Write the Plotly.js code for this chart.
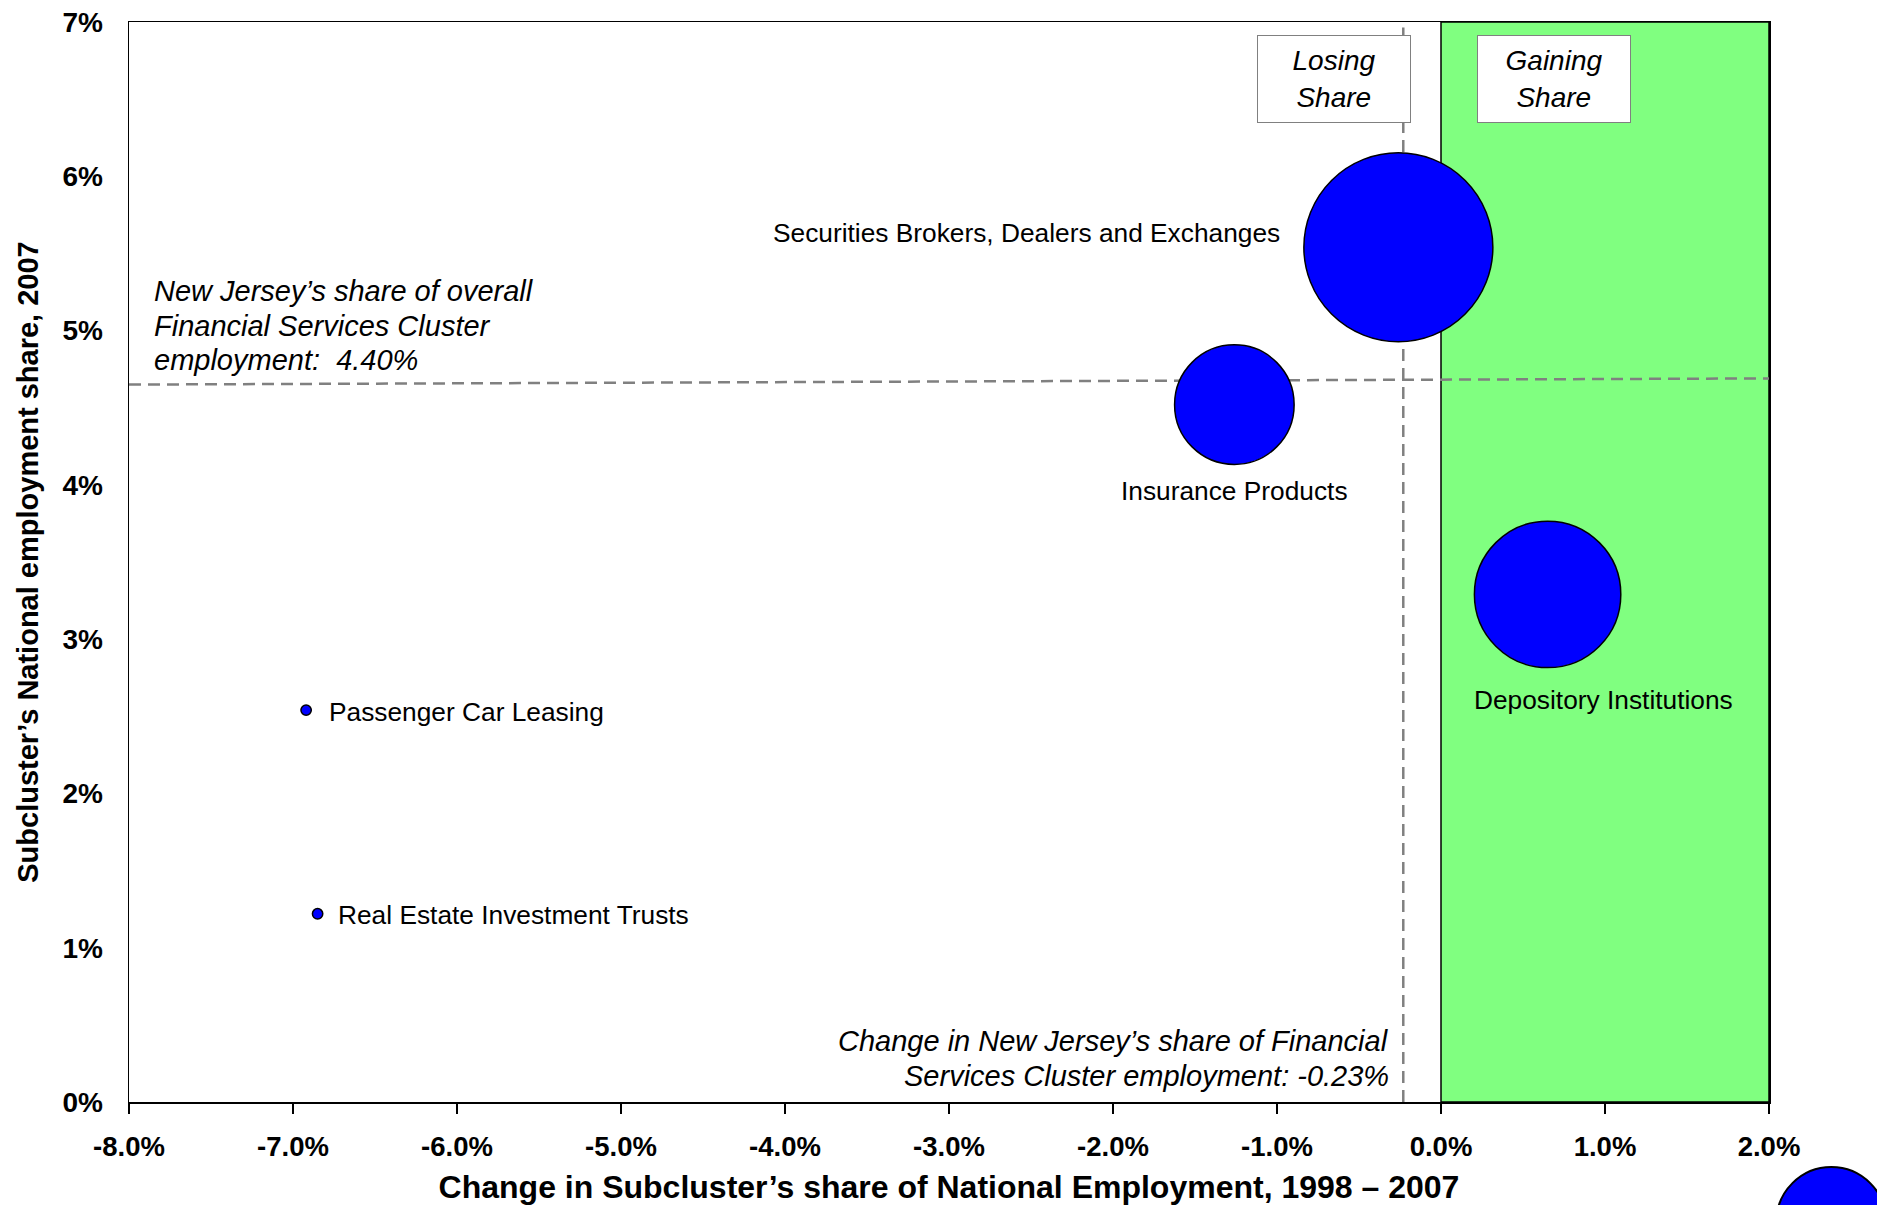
<!DOCTYPE html>
<html><head><meta charset="utf-8">
<script src="https://cdn.plot.ly/plotly-3.0.1.min.js"></script>
<style>html,body{margin:0;padding:0;background:#fff;}#chart{width:1877px;height:1205px;}</style>
</head><body><div id="chart"></div>
<script>
// ---- data ----
const subclusters = ["Securities Brokers, Dealers and Exchanges", "Insurance Products", "Depository Institutions", "Passenger Car Leasing", "Real Estate Investment Trusts"];
const shareChange = [-0.26, -1.26, 0.65, -6.92, -6.85];      // % change in national share 1998-2007
const nationalShare = [5.54, 4.52, 3.29, 2.54, 1.22];        // % national employment share 2007
const bubbleSize = [100, 40, 60, 0.3, 0.3];                  // relative employment (bubble area)
const xTickVals = [-8, -7, -6, -5, -4, -3, -2, -1, 0, 1, 2];
const xTickText = ["-8.0%", "-7.0%", "-6.0%", "-5.0%", "-4.0%", "-3.0%", "-2.0%", "-1.0%", "0.0%", "1.0%", "2.0%"];
const yTickVals = [0, 1, 2, 3, 4, 5, 6, 7];
const yTickText = ["0%", "1%", "2%", "3%", "4%", "5%", "6%", "7%"];
const njChangeRef = -0.23;            // NJ change in share (vertical reference)
const njShareRefLine = [4.65, 4.69];  // horizontal reference line as drawn (left, right)
const xRange = [-8, 2];
const yRange = [0, 7];

// ---- styling / label placement ----
const FONT = "Liberation Sans, Arial, Helvetica, sans-serif";
const labelPlace = [
  {dx: -116, dy: 14, anchor: "right"},
  {dx: 0, dy: -86, anchor: "center"},
  {dx: 56, dy: -106, anchor: "center"},
  {dx: 21, dy: -2, anchor: "left"},
  {dx: 18, dy: -1, anchor: "left"}
];
const maxDiam = 189;

const trace = {
  type: "scatter", mode: "markers",
  x: shareChange, y: nationalShare, text: subclusters,
  hoverinfo: "text",
  cliponaxis: false,
  marker: {
    size: bubbleSize, sizemode: "area",
    sizeref: 2 * Math.max(...bubbleSize) / (maxDiam * maxDiam),
    color: "#0000FF", opacity: 1,
    line: {color: "#000000", width: 1.5}
  },
  showlegend: false
};

const annotations = subclusters.map((name, i) => ({
  x: shareChange[i], y: nationalShare[i], xref: "x", yref: "y",
  text: name, showarrow: false,
  xshift: labelPlace[i].dx, yshift: labelPlace[i].dy,
  xanchor: labelPlace[i].anchor, yanchor: "middle",
  font: {family: FONT, size: 26.3, color: "#000"}
}));

const italic = {family: FONT, size: 29, color: "#000", style: "italic"};
[["New Jersey’s share of overall", 5.256], ["Financial Services Cluster", 5.030], ["employment:&nbsp; 4.40%", 4.809]].forEach(([t, yy]) => {
  annotations.push({x: -7.86, y: yy, xref: "x", yref: "y", text: t, showarrow: false, xanchor: "left", yanchor: "middle", font: italic});
});
[["Change in New Jersey’s share of Financial", 0.393], ["Services Cluster employment: -0.23%", 0.168]].forEach(([t, yy]) => {
  annotations.push({x: njChangeRef, y: yy, xref: "x", yref: "y", xshift: -12, text: t, showarrow: false, xanchor: "right", yanchor: "middle", font: italic});
});
[["Losing<br>Share", -0.655], ["Gaining<br>Share", 0.691]].forEach(([t, xx]) => {
  annotations.push({x: xx, y: 6.63, xref: "x", yref: "y", text: t, showarrow: false,
    xanchor: "center", yanchor: "middle", width: 152, height: 86,
    bgcolor: "#FFFFFF", bordercolor: "#808080", borderwidth: 1, borderpad: 0,
    font: {family: FONT, size: 28, color: "#000", style: "italic"}});
});

const shapes = [
  {type: "rect", xref: "x", yref: "y", x0: 0, x1: xRange[1], y0: yRange[0], y1: yRange[1],
   fillcolor: "#80FF80", line: {color: "#000", width: 1.5}, layer: "below"},
  {type: "line", xref: "x", yref: "y", x0: njChangeRef, x1: njChangeRef, y0: yRange[0], y1: 6.965,
   line: {color: "#808080", width: 2.5, dash: "12px,7px"}, layer: "below"},
  {type: "line", xref: "x", yref: "y", x0: xRange[0], x1: xRange[1], y0: njShareRefLine[0], y1: njShareRefLine[1],
   line: {color: "#808080", width: 2.5, dash: "12px,7px"}, layer: "below"},
  // bubble legend key, partly off the page
  {type: "circle", xref: "paper", yref: "paper", x0: 1.0045, x1: 1.0715, y0: -0.162, y1: -0.0602,
   fillcolor: "#0000FF", line: {color: "#000", width: 2}}
];

const layout = {
  width: 1877, height: 1205,
  margin: {l: 129, r: 108, t: 22, b: 103, pad: 0},
  paper_bgcolor: "#FFFFFF", plot_bgcolor: "#FFFFFF",
  font: {family: FONT, color: "#000"},
  xaxis: {
    range: xRange, tickvals: xTickVals, ticktext: xTickText,
    showgrid: false, zeroline: false, showline: true, mirror: true,
    linecolor: "#000", linewidth: 1.5,
    ticks: "outside", ticklen: 10, tickwidth: 1.5, tickcolor: "#000",
    ticklabelstandoff: 9,
    tickfont: {family: FONT, size: 27.5, color: "#000", weight: "bold"},
    title: {text: "Change in Subcluster’s share of National Employment, 1998 – 2007",
      font: {family: FONT, size: 32, color: "#000", weight: "bold"}, standoff: 19},
    automargin: false, fixedrange: true
  },
  yaxis: {
    range: yRange, tickvals: yTickVals, ticktext: yTickText,
    showgrid: false, zeroline: false, showline: true, mirror: true,
    linecolor: "#000", linewidth: 1.5,
    ticks: "", ticklabelstandoff: 19,
    tickfont: {family: FONT, size: 28, color: "#000", weight: "bold"},
    title: {text: "Subcluster’s National employment share, 2007",
      font: {family: FONT, size: 29, color: "#000", weight: "bold"}, standoff: 15},
    automargin: false, fixedrange: true
  },
  shapes: shapes,
  annotations: annotations,
  showlegend: false
};

Plotly.newPlot("chart", [trace], layout, {displayModeBar: false, staticPlot: true});
</script>
</body></html>
